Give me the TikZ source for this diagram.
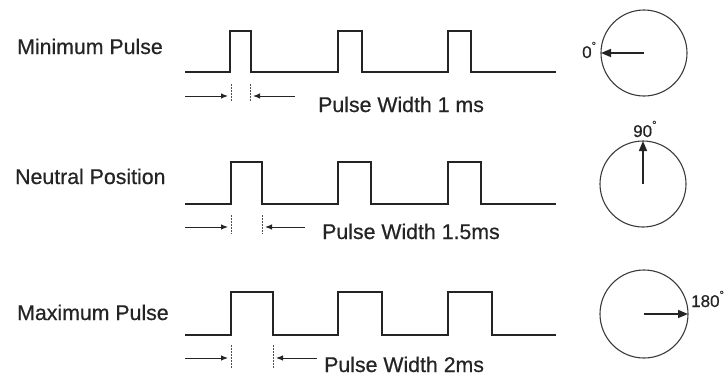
\documentclass[tikz,border=0pt]{standalone}
\usepackage{fontspec}
\setmainfont{Liberation Sans}[FakeBold=0.6]
\newfontfamily\plainfont{Liberation Sans}
\usetikzlibrary{arrows.meta}
\definecolor{ink}{HTML}{242424}
\begin{document}
\begin{tikzpicture}[x=1pt,y=-1pt,
  wave/.style={draw=ink,line width=1.8pt,line join=miter},
  dim/.style={draw=ink,line width=1pt,-{Latex[length=7pt,width=5.5pt]}},
  guide/.style={draw=ink!80,line width=1pt,dash pattern=on 1.5pt off 1.5pt},
  dial/.style={draw=ink!90,line width=1.1pt},
  needle/.style={draw=ink,line width=1.6pt,-{Triangle[length=10pt,width=8pt]}},
  lbl/.style={anchor=base west,inner sep=0pt,font=\fontsize{21.3}{24}\selectfont\addfontfeature{FakeBold=0.6},text=ink},
  deg/.style={anchor=base west,inner sep=0pt,font=\fontsize{17}{20}\selectfont,text=ink}]
\useasboundingbox (0,0) rectangle (726,378);
% labels
\node[lbl] (l1) at (17,54) {Minimum Pulse};
\node[lbl] (l2) at (15,184) {Neutral Position};
\node[lbl] (l3) at (17,320) {Maximum Pulse};
% waves
\draw[wave] (185,72) -- (230,72) -- (230,31) -- (251,31) -- (251,72) -- (338,72) -- (338,31) -- (362,31) -- (362,72) -- (448,72) -- (448,31) -- (471,31) -- (471,72) -- (556,72);
\draw[wave] (185,204) -- (231,204) -- (231,162) -- (262,162) -- (262,204) -- (338,204) -- (338,162) -- (371,162) -- (371,204) -- (448,204) -- (448,162) -- (481,162) -- (481,204) -- (556,204);
\draw[wave] (185,335) -- (231,335) -- (231,292) -- (273,292) -- (273,335) -- (338,335) -- (338,292) -- (382,292) -- (382,335) -- (448,335) -- (448,292) -- (492,292) -- (492,335) -- (556,335);
% guides
\draw[guide] (231,84) -- (231,102);
\draw[guide] (250,84) -- (250,102);
\draw[guide] (231,215) -- (231,234);
\draw[guide] (262,215) -- (262,234);
\draw[guide] (231,345) -- (231,369);
\draw[guide] (273,345) -- (273,369);
% dimension arrows
\coordinate (a1s) at (185,96); \coordinate (a1e) at (228,96);
\coordinate (b1s) at (295,96); \coordinate (b1e) at (253,96);
\coordinate (a2s) at (185,227); \coordinate (a2e) at (228,227);
\coordinate (b2s) at (305,227); \coordinate (b2e) at (265,227);
\coordinate (a3s) at (185,358); \coordinate (a3e) at (228,358);
\coordinate (b3s) at (317,358); \coordinate (b3e) at (276,358);
\draw[dim] (a1s) -- (a1e);
\draw[dim] (b1s) -- (b1e);
\draw[dim] (a2s) -- (a2e);
\draw[dim] (b2s) -- (b2e);
\draw[dim] (a3s) -- (a3e);
\draw[dim] (b3s) -- (b3e);
\node[lbl] (w1) at (318,112) {Pulse Width 1 ms};
\node[lbl] (w2) at (322,239) {Pulse Width 1.5ms};
\node[lbl] (w3) at (324,372) {Pulse Width 2ms};
% dials
\coordinate (c1) at (644,53);
\coordinate (c2) at (643,184);
\coordinate (c3) at (644,314);
\draw[dial] (c1) circle[radius=43];
\draw[dial] (c2) circle[radius=43];
\draw[dial] (c3) circle[radius=44];
\coordinate (e1) at (601,53);
\coordinate (e2) at (643,141);
\coordinate (e3) at (688,314);
\draw[needle] (c1) -- (e1);
\draw[needle] (c2) -- (e2);
\draw[needle] (c3) -- (e3);
\node[deg] (d1) at (582,58) {0\raisebox{0.5em}{\fontsize{11}{12}\selectfont°}};
\node[deg] (d2) at (633,137) {90\raisebox{0.5em}{\fontsize{11}{12}\selectfont°}};
\node[deg] (d3) at (691,307) {180\raisebox{0.5em}{\fontsize{11}{12}\selectfont°}};
\end{tikzpicture}
\end{document}
